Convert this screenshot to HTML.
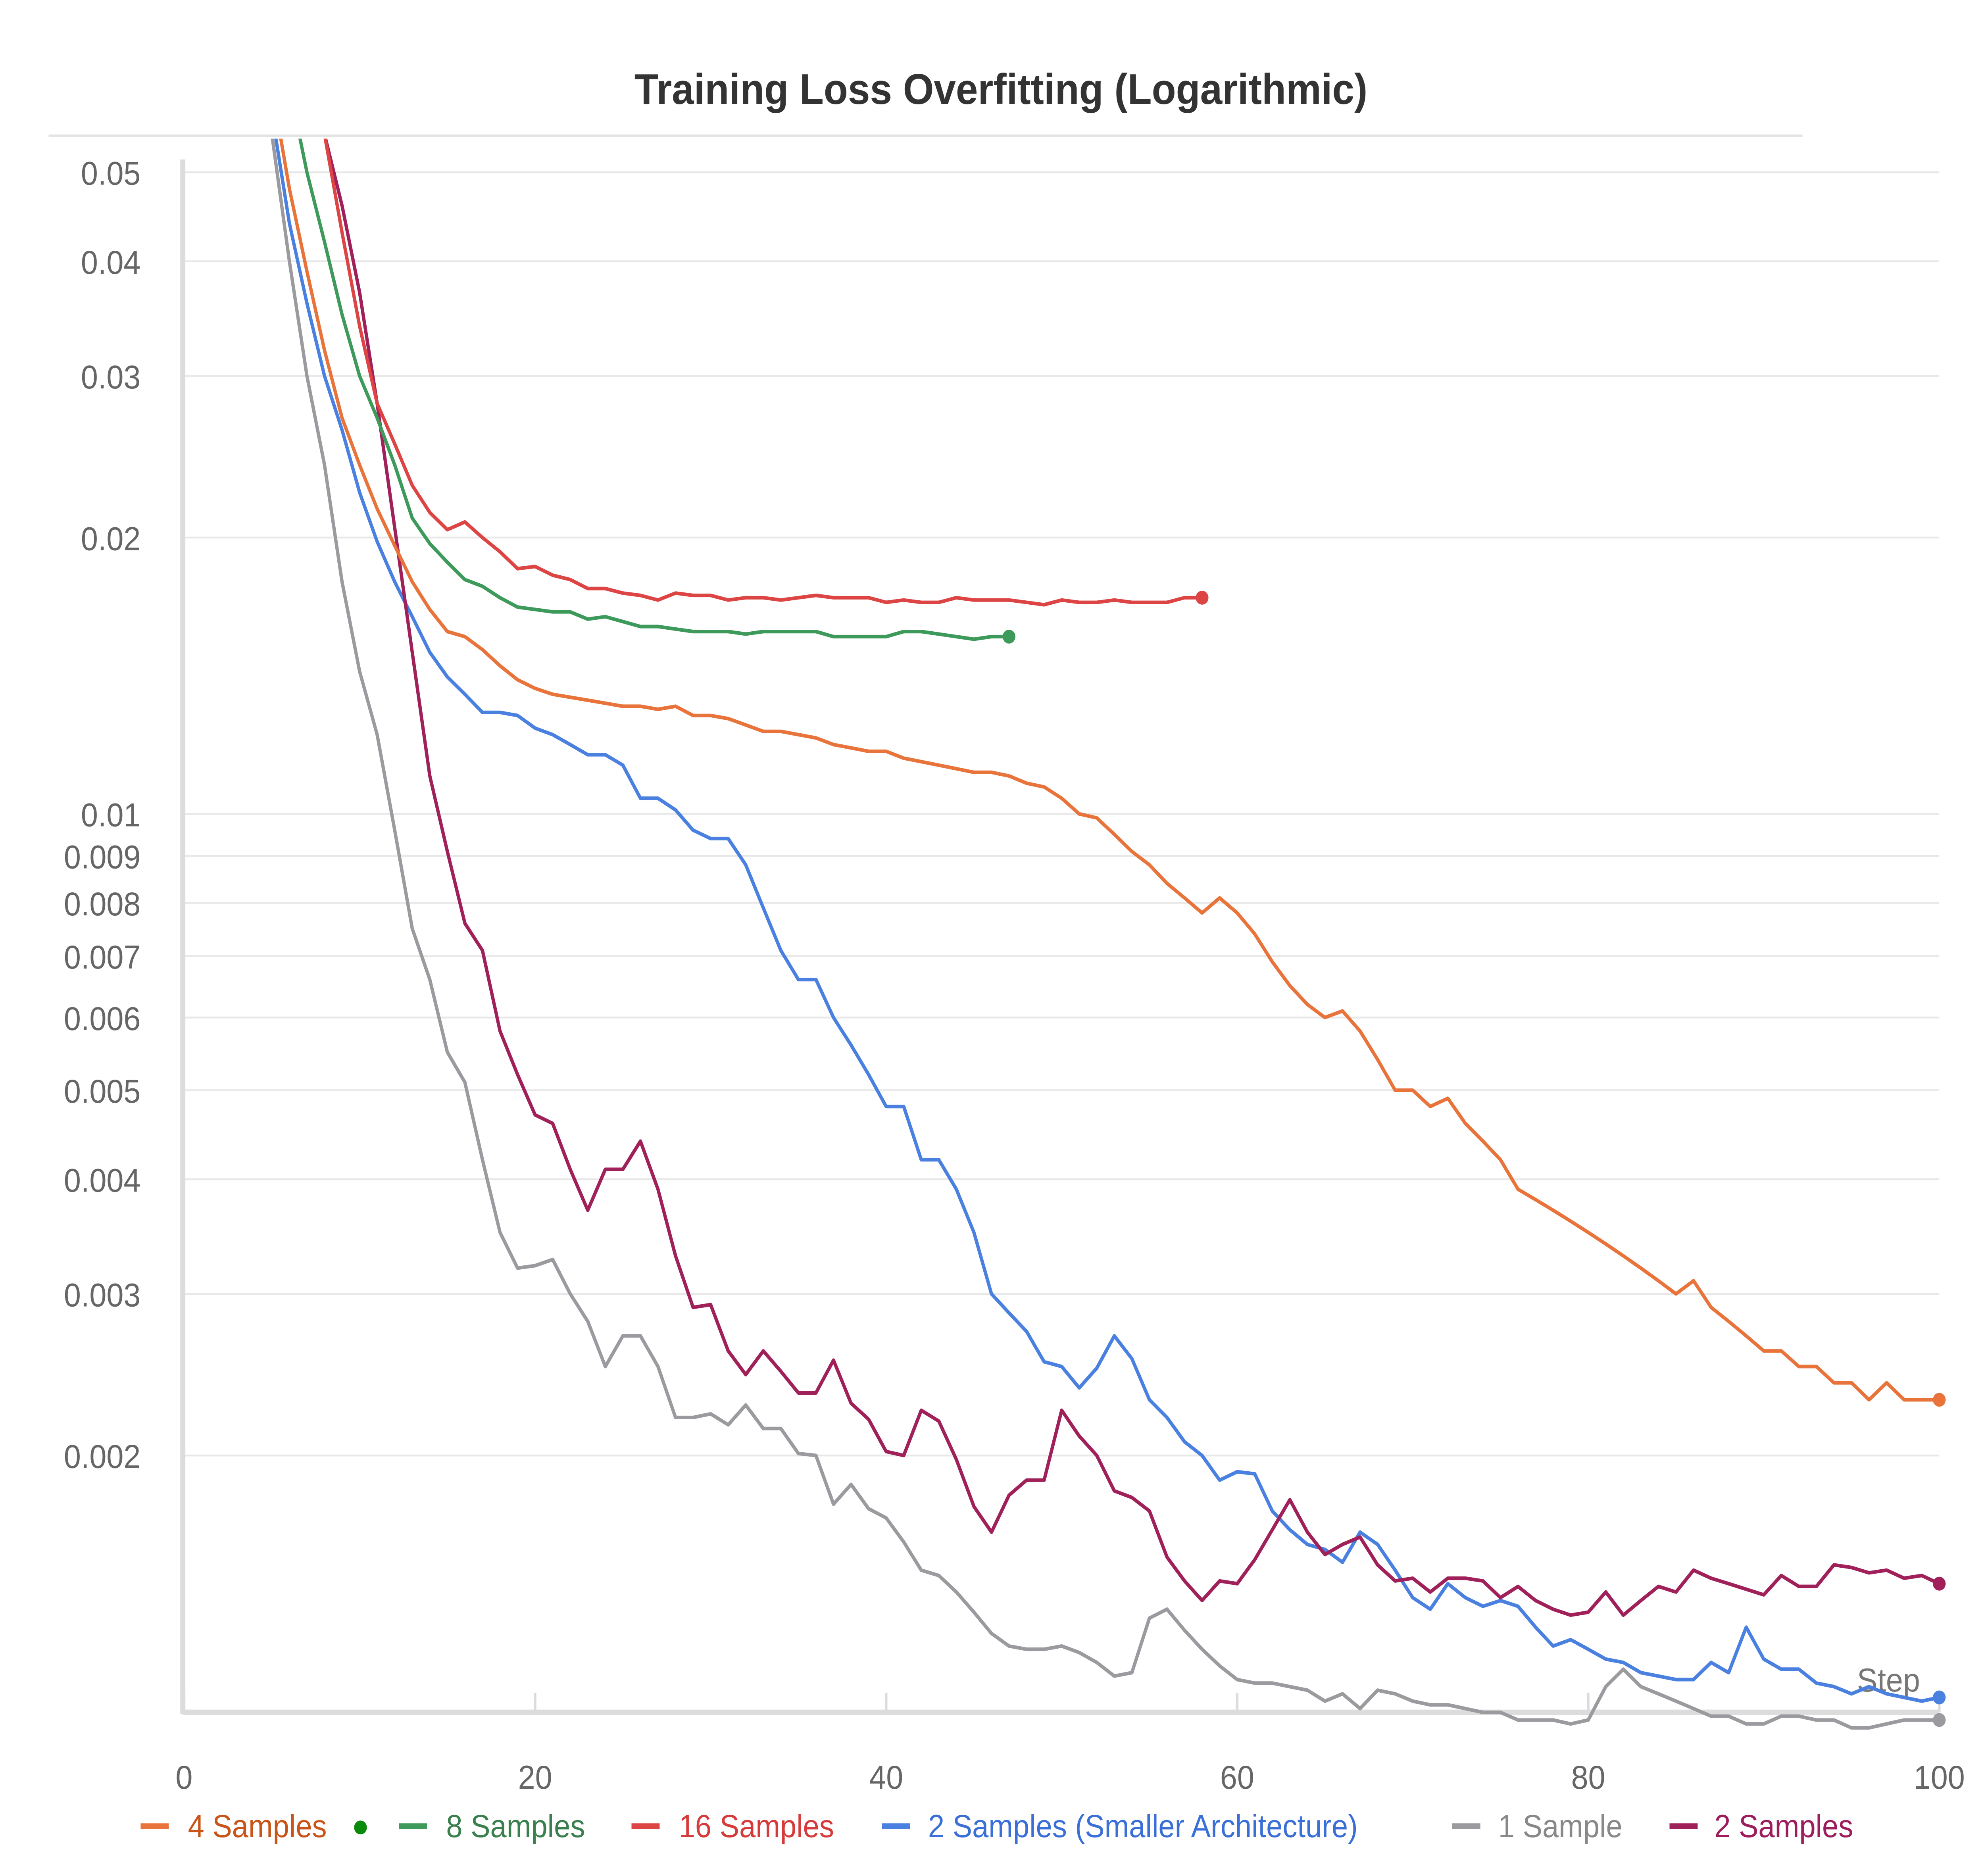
<!DOCTYPE html>
<html><head><meta charset="utf-8">
<style>html,body{margin:0;padding:0;background:#fff;overflow:hidden;width:100%;height:100%;}svg{display:block;width:100vw;height:100vh;}</style>
</head><body>
<svg id="chart" viewBox="0 0 1552 1353" preserveAspectRatio="none" xmlns="http://www.w3.org/2000/svg" font-family="Liberation Sans, sans-serif">
<rect width="1552" height="1353" fill="#fff"/>
<text x="783" y="75" text-anchor="middle" font-size="31" font-weight="bold" fill="#333">Training Loss Overfitting (Logarithmic)</text>
<line x1="38" y1="98" x2="1410" y2="98" stroke="#e4e4e4" stroke-width="2"/>
<g id="grid"></g>
<g id="yticks"></g>
<g id="xticks"></g>
<line x1="143" y1="115" x2="143" y2="1236" stroke="#dcdcdc" stroke-width="4"/>
<line x1="143" y1="1235" x2="1517" y2="1235" stroke="#dcdcdc" stroke-width="4"/>
<text x="1502" y="1220" text-anchor="end" font-size="24" fill="#777">Step</text>
<defs><clipPath id="plotclip"><rect x="144" y="100" width="1390" height="1150"/></clipPath></defs>
<g id="series" clip-path="url(#plotclip)"></g>
<g id="dots"></g>
<g font-size="23">
 <g><line x1="110" y1="1317" x2="132" y2="1317" stroke="#e8743b" stroke-width="4"/><text x="147" y="1325" fill="#c85418">4 Samples</text><circle cx="282" cy="1318" r="5" fill="#0a8a0a"/></g>
 <g><line x1="312" y1="1317" x2="334" y2="1317" stroke="#3d9a5b" stroke-width="4"/><text x="349" y="1325" fill="#3a7f4e">8 Samples</text></g>
 <g><line x1="494" y1="1317" x2="516" y2="1317" stroke="#dd4444" stroke-width="4"/><text x="531" y="1325" fill="#d63a3a">16 Samples</text></g>
 <g><line x1="690" y1="1317" x2="712" y2="1317" stroke="#4a80e0" stroke-width="4"/><text x="726" y="1325" fill="#3a6fd8">2 Samples (Smaller Architecture)</text></g>
 <g><line x1="1136" y1="1317" x2="1158" y2="1317" stroke="#9a9a9f" stroke-width="4"/><text x="1172" y="1325" fill="#888">1 Sample</text></g>
 <g><line x1="1306" y1="1317" x2="1328" y2="1317" stroke="#a0205a" stroke-width="4"/><text x="1341" y="1325" fill="#9c1c5c">2 Samples</text></g>
</g>
</svg>
<script>
const yTickValues = [0.05,0.04,0.03,0.02,0.01,0.009,0.008,0.007,0.006,0.005,0.004,0.003,0.002];
const yTickLabels = ["0.05","0.04","0.03","0.02","0.01","0.009","0.008","0.007","0.006","0.005","0.004","0.003","0.002"];
const xTickValues = [0,20,40,60,80,100];
const xTickLabels = ["0","20","40","60","80","100"];

const orangeStart = 4;
const orangeValues = [0.070,0.062,0.048,0.039,0.032,0.027,0.024,0.0215,0.0196,0.0179,0.0167,0.0158,0.0156,0.0151,0.0145,0.0140,0.0137,0.0135,0.0134,0.0133,0.0132,0.0131,0.0131,0.0130,0.0131,0.0128,0.0128,0.0127,0.0125,0.0123,0.0123,0.0122,0.0121,0.0119,0.0118,0.0117,0.0117,0.0115,0.0114,0.0113,0.0112,0.0111,0.0111,0.0110,0.0108,0.0107,0.0104,0.0100,0.0099,0.0095,0.0091,0.0088,0.0084,0.0081,0.0078,0.0081,0.0078,0.0074,0.0069,0.0065,0.0062,0.0060,0.0061,0.0058,0.0054,0.0050,0.0050,0.0048,0.0049,0.0046,0.0044,0.0042,0.0039,0.0038,0.0037,0.0036,0.0035,0.0034,0.0033,0.0032,0.0031,0.0030,0.0031,0.0029,0.0028,0.0027,0.0026,0.0026,0.0025,0.0025,0.0024,0.0024,0.0023,0.0024,0.0023,0.0023,0.0023];
const greenStart = 5;
const greenValues = [0.070,0.062,0.050,0.042,0.035,0.030,0.027,0.024,0.021,0.0197,0.0188,0.0180,0.0177,0.0172,0.0168,0.0167,0.0166,0.0166,0.0163,0.0164,0.0162,0.0160,0.0160,0.0159,0.0158,0.0158,0.0158,0.0157,0.0158,0.0158,0.0158,0.0158,0.0156,0.0156,0.0156,0.0156,0.0158,0.0158,0.0157,0.0156,0.0155,0.0156,0.0156];
const redStart = 7;
const redValues = [0.068,0.055,0.043,0.034,0.028,0.0253,0.0228,0.0213,0.0204,0.0208,0.0200,0.0193,0.0185,0.0186,0.0182,0.0180,0.0176,0.0176,0.0174,0.0173,0.0171,0.0174,0.0173,0.0173,0.0171,0.0172,0.0172,0.0171,0.0172,0.0173,0.0172,0.0172,0.0172,0.0170,0.0171,0.0170,0.0170,0.0172,0.0171,0.0171,0.0171,0.0170,0.0169,0.0171,0.0170,0.0170,0.0171,0.0170,0.0170,0.0170,0.0172,0.0172];
const blueStart = 4;
const blueValues = [0.070,0.058,0.044,0.036,0.030,0.0262,0.0224,0.0198,0.0179,0.0164,0.0150,0.0141,0.0135,0.0129,0.0129,0.0128,0.0124,0.0122,0.0119,0.0116,0.0116,0.0113,0.0104,0.0104,0.0101,0.0096,0.0094,0.0094,0.0088,0.0079,0.0071,0.0066,0.0066,0.0060,0.0056,0.0052,0.0048,0.0048,0.0042,0.0042,0.0039,0.0035,0.0030,0.00286,0.00273,0.00253,0.00250,0.00237,0.00249,0.00270,0.00255,0.00230,0.00220,0.00207,0.00200,0.00188,0.00192,0.00191,0.00174,0.00166,0.00160,0.00158,0.00153,0.00165,0.00160,0.00150,0.00140,0.00136,0.00145,0.00140,0.00137,0.00139,0.00137,0.00130,0.00124,0.00126,0.00123,0.00120,0.00119,0.00116,0.00115,0.00114,0.00114,0.00119,0.00116,0.00130,0.00120,0.00117,0.00117,0.00113,0.00112,0.00110,0.00112,0.00110,0.00109,0.00108,0.00109];
const grayStart = 4;
const grayValues = [0.070,0.055,0.040,0.030,0.024,0.0179,0.0143,0.0122,0.0096,0.0075,0.0066,0.0055,0.0051,0.0042,0.0035,0.0032,0.00322,0.00327,0.0030,0.0028,0.0025,0.0027,0.0027,0.0025,0.0022,0.0022,0.00222,0.00216,0.00227,0.00214,0.00214,0.00201,0.00200,0.00177,0.00186,0.00175,0.00171,0.00161,0.00150,0.00148,0.00142,0.00135,0.00128,0.00124,0.00123,0.00123,0.00124,0.00122,0.00119,0.00115,0.00116,0.00133,0.00136,0.00129,0.00123,0.00118,0.00114,0.00113,0.00113,0.00112,0.00111,0.00108,0.00110,0.00106,0.00111,0.00110,0.00108,0.00107,0.00107,0.00106,0.00105,0.00105,0.00103,0.00103,0.00103,0.00102,0.00103,0.00112,0.00117,0.00112,0.00110,0.00108,0.00106,0.00104,0.00104,0.00102,0.00102,0.00104,0.00104,0.00103,0.00103,0.00101,0.00101,0.00102,0.00103,0.00103,0.00103];
const purpleStart = 7;
const purpleValues = [0.068,0.055,0.046,0.037,0.028,0.0205,0.0150,0.0110,0.0091,0.0076,0.0071,0.0058,0.0052,0.0047,0.0046,0.0041,0.0037,0.0041,0.0041,0.0044,0.0039,0.0033,0.0029,0.00292,0.0026,0.00245,0.0026,0.00247,0.00234,0.00234,0.00254,0.00228,0.00219,0.00202,0.00200,0.00224,0.00218,0.00198,0.00176,0.00165,0.00181,0.00188,0.00188,0.00224,0.00210,0.00200,0.00183,0.00180,0.00174,0.00155,0.00146,0.00139,0.00146,0.00145,0.00154,0.00166,0.00179,0.00165,0.00156,0.00160,0.00163,0.00152,0.00146,0.00147,0.00142,0.00147,0.00147,0.00146,0.00140,0.00144,0.00139,0.00136,0.00134,0.00135,0.00142,0.00134,0.00139,0.00144,0.00142,0.00150,0.00147,0.00145,0.00143,0.00141,0.00148,0.00144,0.00144,0.00152,0.00151,0.00149,0.00150,0.00147,0.00148,0.00145];

const NS = "http://www.w3.org/2000/svg";
const xScale = s => 144 + s * 13.73;
const yScale = v => 587 - Math.log10(v / 0.01) * 662;

const grid = document.getElementById('grid');
const yt = document.getElementById('yticks');
yTickValues.forEach((v, i) => {
  const y = yScale(v);
  const l = document.createElementNS(NS, 'line');
  
  
  l.setAttribute('x1', 144); l.setAttribute('x2', 1517);
  l.setAttribute('y1', y); l.setAttribute('y2', y);
  l.setAttribute('stroke', '#e8e8e8'); l.setAttribute('stroke-width', '1.3');
  grid.appendChild(l);
  const t = document.createElementNS(NS, 'text');
  
  
  t.setAttribute('x', 110); t.setAttribute('y', y + 9);
  t.setAttribute('text-anchor', 'end'); t.setAttribute('font-size', '24'); t.setAttribute('fill', '#666');
  t.textContent = yTickLabels[i];
  yt.appendChild(t);
});
const xt = document.getElementById('xticks');
xTickValues.forEach((s, i) => {
  const x = xScale(s);
  const l = document.createElementNS(NS, 'line');
  
  
  l.setAttribute('x1', x); l.setAttribute('x2', x);
  l.setAttribute('y1', 1221); l.setAttribute('y2', 1235);
  l.setAttribute('stroke', '#dcdcdc'); l.setAttribute('stroke-width', '2');
  xt.appendChild(l);
  const t = document.createElementNS(NS, 'text');
  
  
  t.setAttribute('x', x); t.setAttribute('y', 1290);
  t.setAttribute('text-anchor', 'middle'); t.setAttribute('font-size', '24'); t.setAttribute('fill', '#666');
  t.textContent = xTickLabels[i];
  xt.appendChild(t);
});

const seriesG = document.getElementById('series');
const dotsG = document.getElementById('dots');
function drawSeries(name, start, vals, color) {
  const d = vals.map((v, i) => (i ? 'L' : 'M') + xScale(start + i).toFixed(2) + ',' + yScale(v).toFixed(2)).join(' ');
  const p = document.createElementNS(NS, 'path');
  
  
  p.setAttribute('d', d); p.setAttribute('fill', 'none');
  p.setAttribute('stroke', color); p.setAttribute('stroke-width', '2.6');
  p.setAttribute('stroke-linejoin', 'round');
  seriesG.appendChild(p);
  const last = vals.length - 1;
  const c = document.createElementNS(NS, 'circle');
  
  
  c.setAttribute('cx', xScale(start + last)); c.setAttribute('cy', yScale(vals[last]));
  c.setAttribute('r', 5); c.setAttribute('fill', color);
  dotsG.appendChild(c);
}
drawSeries('1-sample', grayStart, grayValues, '#9a9a9f');
drawSeries('2-samples-smaller', blueStart, blueValues, '#4a80e0');
drawSeries('2-samples', purpleStart, purpleValues, '#a0205a');
drawSeries('4-samples', orangeStart, orangeValues, '#e8743b');
drawSeries('8-samples', greenStart, greenValues, '#3d9a5b');
drawSeries('16-samples', redStart, redValues, '#dd4444');
</script>
</body></html>
